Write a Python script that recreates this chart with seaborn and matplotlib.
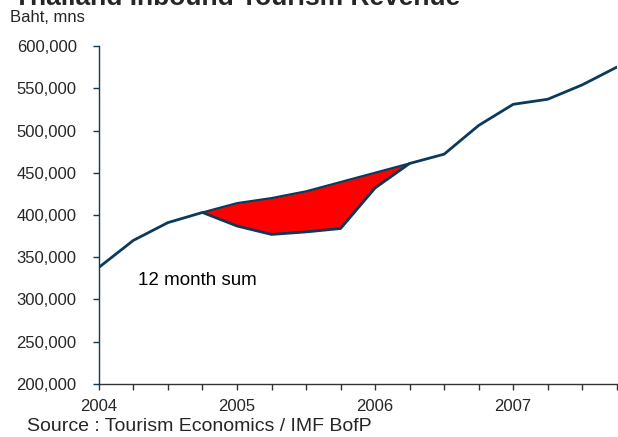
import numpy as np
import pandas as pd
import matplotlib
matplotlib.use("Agg")
import matplotlib.pyplot as plt
import seaborn as sns
from matplotlib.ticker import FuncFormatter, MultipleLocator

sns.set_style("white")
plt.rcParams['font.family'] = ['Liberation Sans', 'DejaVu Sans']

# Data (quarterly, 12 month sum, Baht mns)
quarters = [2004.0, 2004.25, 2004.5, 2004.75, 2005.0, 2005.25, 2005.5, 2005.75,
            2006.0, 2006.25, 2006.5, 2006.75, 2007.0, 2007.25, 2007.5, 2007.75]
actual = [338000, 370000, 391000, 403000, 387000, 377000, 380000, 384000,
          432000, 461000, 472000, 506000, 531000, 537000, 554000, 575000]
trend_q = [2004.75, 2005.0, 2005.25, 2005.5, 2005.75, 2006.0, 2006.25]
trend = [403000, 414000, 420000, 428000, 439000, 450000, 461000]
year_labels = ["2004", "2005", "2006", "2007"]

navy = "#0b3a5a"

df = pd.DataFrame({"q": quarters, "v": actual})
dft = pd.DataFrame({"q": trend_q, "v": trend})

fig = plt.figure(figsize=(6.18, 4.37), dpi=100)
ax = fig.add_axes([0.160, 0.1213, 0.838, 0.7734])

# red gap between trend and actual
act_sub = [actual[quarters.index(q)] for q in trend_q]
ax.fill_between(trend_q, act_sub, trend, color="#ff0000", linewidth=0, zorder=2)

sns.lineplot(data=dft, x="q", y="v", ax=ax, color=navy, linewidth=1.6, zorder=3)
sns.lineplot(data=df, x="q", y="v", ax=ax, color=navy, linewidth=2.0, zorder=4)

ax.set_xlim(2004.0, 2007.75)
ax.set_ylim(200000, 600000)
ax.xaxis.set_major_locator(MultipleLocator(0.25))
def xfmt(x, pos):
    if abs(x - round(x)) < 1e-6 and 2004 <= round(x) <= 2007:
        return year_labels[int(round(x)) - 2004]
    return ""
ax.xaxis.set_major_formatter(FuncFormatter(xfmt))
ax.yaxis.set_major_locator(MultipleLocator(50000))
ax.yaxis.set_major_formatter(FuncFormatter(lambda v, p: f"{int(v):,}"))

ax.set_xlabel("")
ax.set_ylabel("")
for s in ["top", "right"]:
    ax.spines[s].set_visible(False)
ax.spines["left"].set_color(navy)
ax.spines["bottom"].set_color("#333333")
ax.spines["left"].set_linewidth(1.0)
ax.spines["bottom"].set_linewidth(1.0)
ax.tick_params(axis="y", direction="out", length=4, width=1, color=navy,
               labelsize=12, pad=12, left=True)
ax.tick_params(axis="x", direction="out", length=4, width=1, color="#333333",
               labelsize=12, pad=7, bottom=True)
ax.grid(False)

ax.text(2004.285, 323000, "12 month sum", fontsize=13.5, color="black", va="center")

fig.text(0.016, 0.959, "Baht, mns", fontsize=12, ha="left", va="center")
fig.text(0.022, 0.9886, "Thailand Inbound Tourism Revenue", fontsize=19,
         fontweight="bold", ha="left", va="baseline")
fig.text(0.044, 0.023, "Source : Tourism Economics / IMF BofP", fontsize=14,
         ha="left", va="center")

fig.savefig("out.png", dpi=100)
